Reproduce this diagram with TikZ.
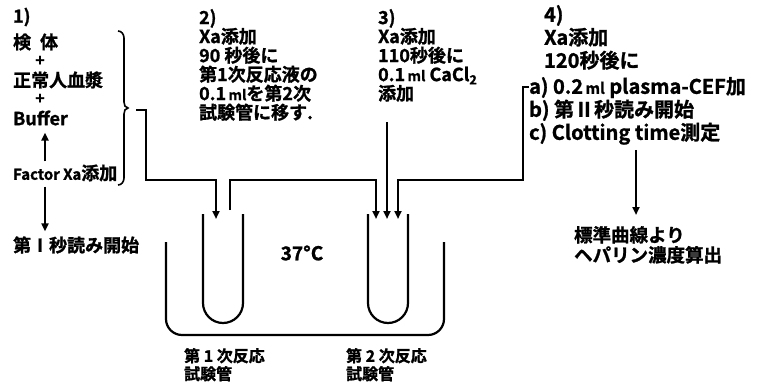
\documentclass[tikz,border=0pt]{standalone}
\usepackage{fontspec}
\setmainfont{Noto Sans CJK JP}[BoldFont=* Bold, BoldFeatures={FakeBold=1.2}]
\usetikzlibrary{arrows.meta,calc}
\begin{document}
\begin{tikzpicture}[x=1pt,y=1pt,
  line width=2.2pt,
  every node/.style={inner sep=0pt, font=\bfseries\fontsize{18}{19}\selectfont},
  lbl/.style={anchor=west},
  blk/.style={anchor=north west, align=left},
  plus/.style={font=\bfseries\fontsize{16}{16}\selectfont},
  big/.style={font=\bfseries\fontsize{20}{23}\selectfont},
  small/.style={font=\bfseries\fontsize{16}{18}\selectfont},
  arr/.style={-{Triangle[length=8pt,width=7pt]}},
  wire/.style={line width=2.3pt, line join=miter},
  tube/.style={line width=2.2pt}]
\useasboundingbox (0,0) rectangle (763,381);
% column 1
\node[lbl] (h1) at (12,364) {1)};
\node[lbl] (kentai) at (12,339) {検\hspace{0.5em}体};
\node[plus] (p1) at (40,320) {+};
\node[lbl] (seijo) at (12,301) {正常人血漿};
\node[plus] (p2) at (40,282) {+};
\node[lbl] (buffer) at (12,263) {Buffer};
\node[lbl] (factor) at (12,208) {{\fontsize{15}{15}\selectfont Factor Xa}添加};
\node[lbl] (dai1) at (12,136) {第Ⅰ秒読み開始};
\coordinate (ax) at (45,0);
\draw[arr] ($(ax |- factor.north)+(0,2)$) -- ($(ax |- buffer.south)+(0,-6)$);
\draw[arr] ($(ax |- factor.south)+(0,-4)$) -- ($(ax |- dai1.north)+(0,4)$);
% brace
\draw[line width=1.6pt] (118,350) to[out=0,in=90] (124,343) -- (124,279)
  to[out=-90,in=180] (128,273) to[out=180,in=90] (124,267) -- (124,203)
  to[out=-90,in=0] (118,196);
% column 2
\node[blk] (c2) at (198,373) {2)\\Xa添加\\90 秒後に\\第1次反応液の\\0.1{\fontsize{14}{14}\selectfont\,ml}を第2次\\試験管に移す.};
% column 3
\node[blk] (c3) at (377,373) {3)\\Xa添加\\110秒後に\\0.1{\fontsize{14}{14}\selectfont\,ml} CaCl\textsubscript{2}\\添加};
% column 4
\node[blk,big] (c4) at (543,377) {4)\\Xa添加\\120秒後に};
\node[blk,big] (c4a) at (528,305) {a) 0.2{\fontsize{15}{15}\selectfont\,ml} plasma-CEF加\\b) 第Ⅱ秒読み開始\\c) Clotting time測定};
\node[blk,font=\bfseries\fontsize{18.5}{20}\selectfont] (res) at (573,156) {標準曲線より\\ヘパリン濃度算出};
\coordinate (rx) at (636,0);
\draw[arr] ($(rx |- c4a.south)+(0,-4)$) -- ($(rx |- res.north)+(0,10)$);
% tubes and bath
\draw[tube] (203,167) -- (203,78) arc[start angle=180,end angle=360,radius=20] -- (243,167);
\draw[tube] (368,167) -- (368,78) arc[start angle=180,end angle=360,radius=20] -- (408,167);
\draw[tube,rounded corners=16pt] (166,139) -- (166,46) -- (444,46) -- (444,139);
\node[font=\bfseries\fontsize{19}{19}\selectfont] (temp) at (302,128) {37°C};
\node[blk,small] (lab1) at (183,34) {第 1 次反応\\試験管};
\node[blk,small] (lab2) at (345,34) {第 2 次反応\\試験管};
% connectors
\coordinate (b1) at (136,271);
\coordinate (in1) at (216,162);
\coordinate (o1) at (230,171);
\coordinate (in2a) at (376,162);
\coordinate (s3) at (387,259);
\coordinate (in2b) at (387,162);
\coordinate (h4) at (529,294);
\coordinate (in2c) at (398,162);
\draw[wire,arr] (b1) -- (146,271) -- (146,201) -| (in1);
\draw[wire,arr] (o1) |- (376,201) -- (in2a);
\draw[wire,arr] (s3) -- (in2b);
\draw[wire,arr] (h4) -- (523,294) -- (523,201) -| (in2c);
\end{tikzpicture}
\end{document}
